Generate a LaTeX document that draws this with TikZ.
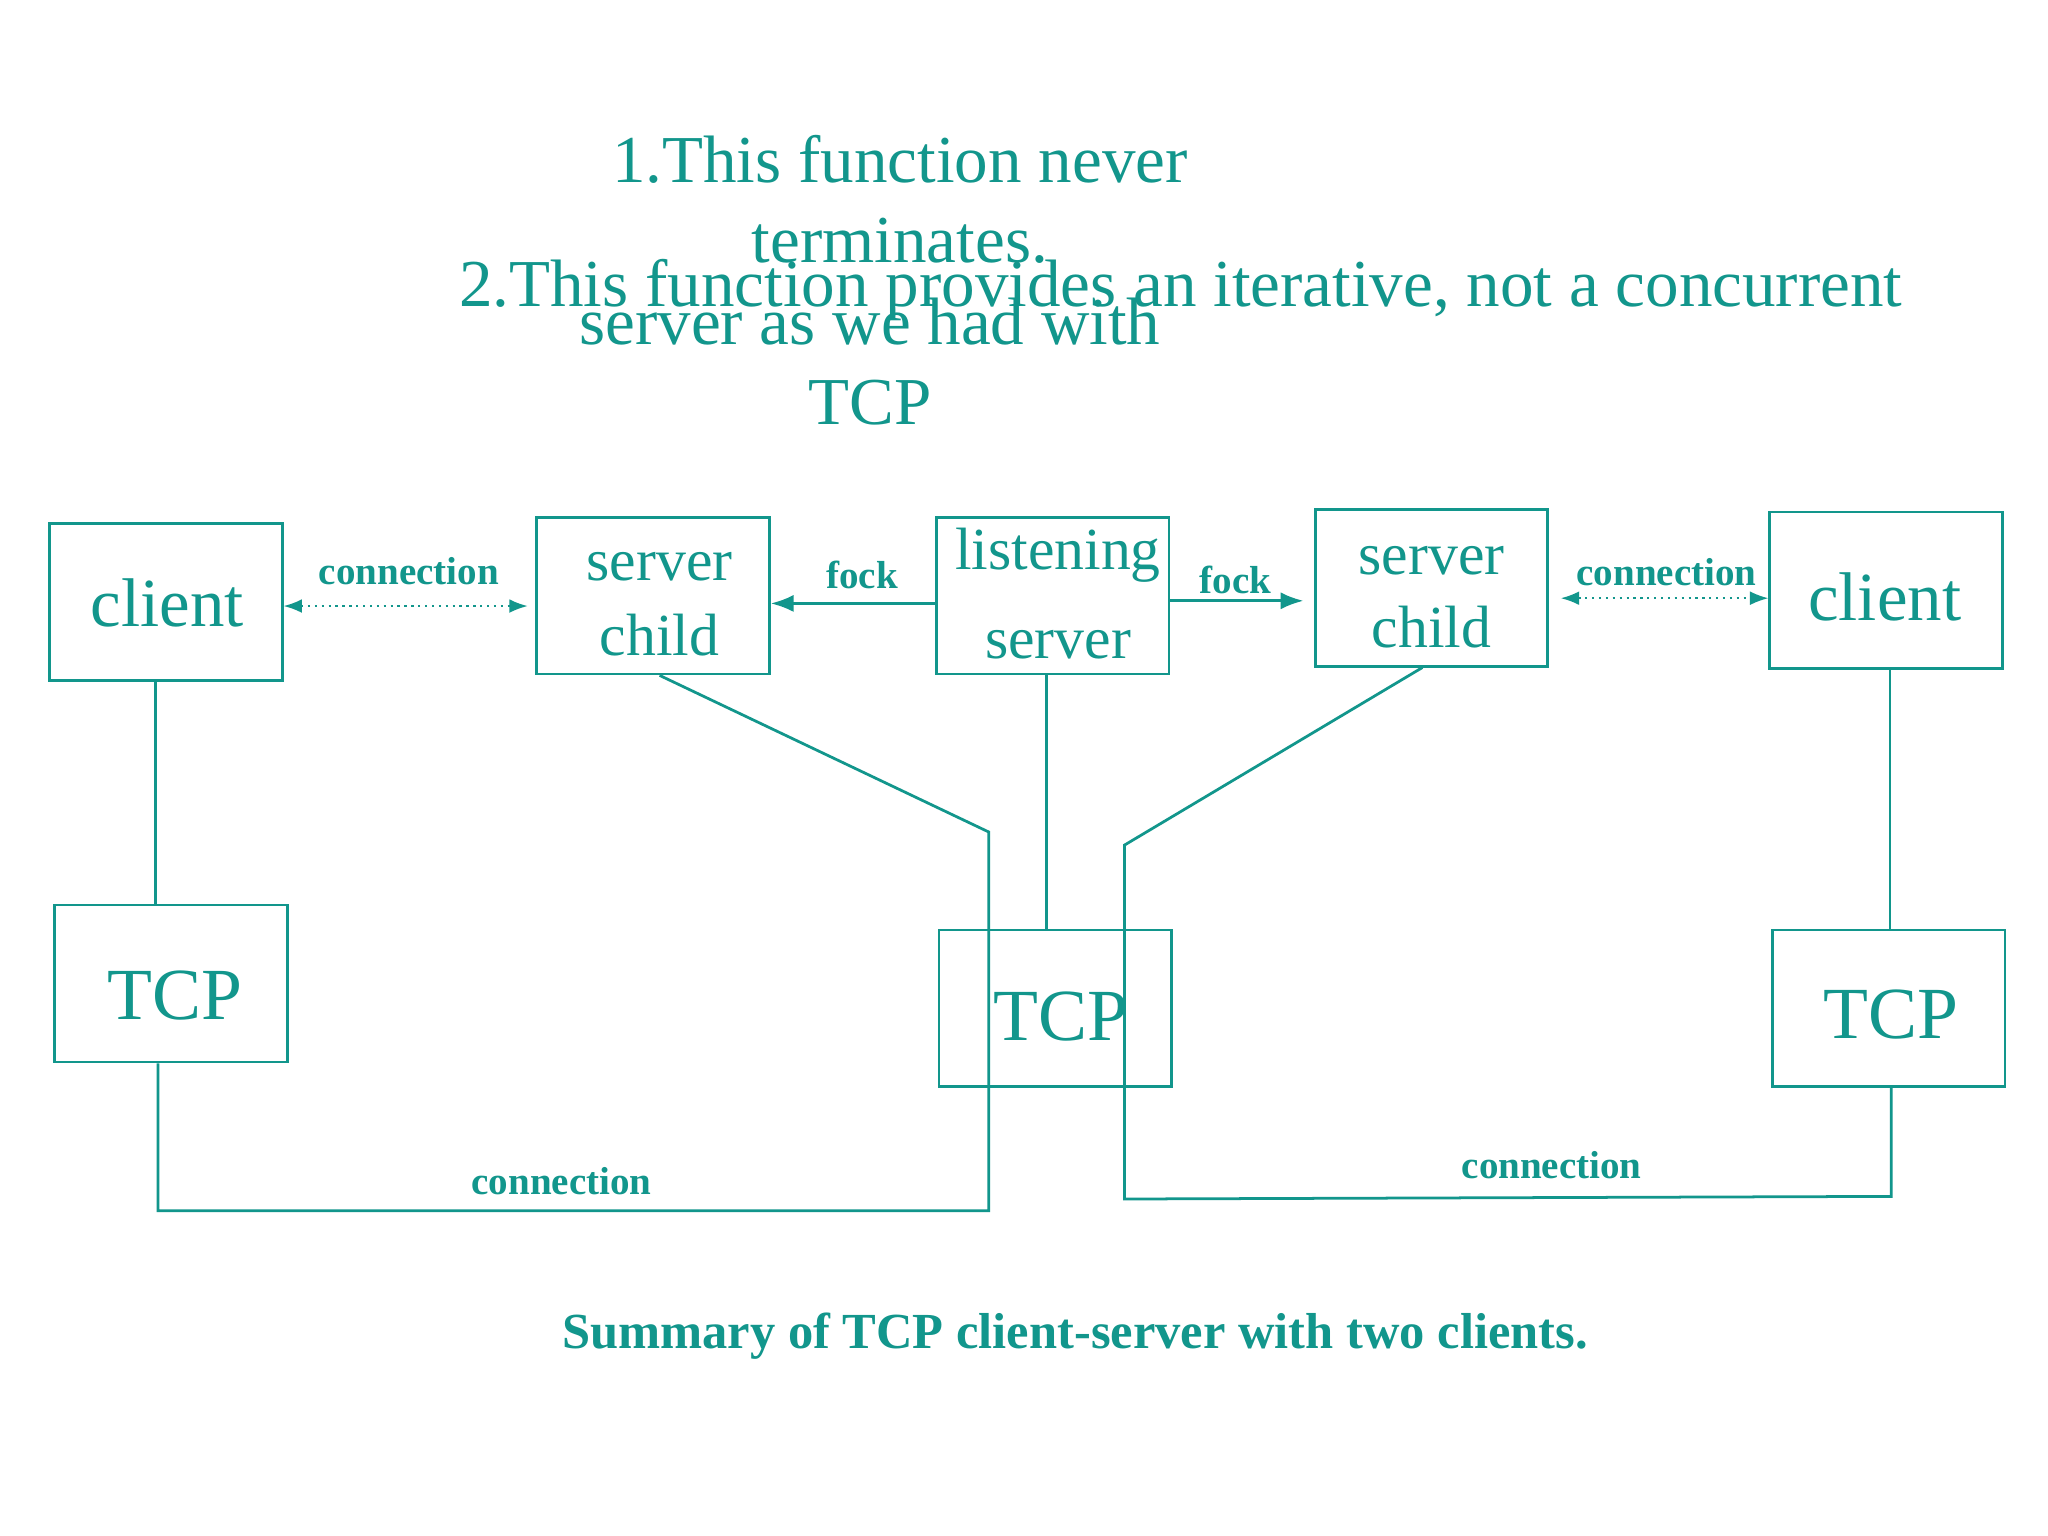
\documentclass[tikz,border=0pt]{standalone}
\usepackage{fontspec}
\setmainfont{Liberation Serif}
\usetikzlibrary{arrows.meta}
\definecolor{tl}{RGB}{18,150,140}
\begin{document}
\begin{tikzpicture}[x=0.01cm,y=-0.01cm,
  box/.style={draw=tl,line width=0.6pt,minimum width=1.78cm,minimum height=1.2cm,inner sep=0pt},
  big/.style={text=tl,font=\fontsize{15}{16}\selectfont},
  mid/.style={text=tl,font=\fontsize{13}{14}\selectfont},
  lab/.style={text=tl,font=\bfseries\fontsize{8.5}{10}\selectfont},
  ln/.style={draw=tl,line width=0.6pt},
  dot/.style={ln,line width=0.4pt,dash pattern=on 0.5pt off 1pt,{Latex[length=4pt]}-{Latex[length=4pt]}},
  arr/.style={ln,-{Latex[length=5pt]}}]
\useasboundingbox (0,0) rectangle (1568,1176);
\fill[white] (0,0) rectangle (1568,1176);
% boxes
\node[box] (cl) at (127,461) {};
\node[big] at (128,462) {client};
\node[box] (scl) at (500,456) {};
\node[mid] at (505,434) {server};
\node[mid] at (505,486) {child};
\node[box] (ls) at (806,456) {};
\node[mid] at (810,425) {listening};
\node[mid] at (810,494) {server};
\node[box] (scr) at (1096,450) {};
\node[mid] at (1096,429) {server};
\node[mid] at (1096,480) {child};
\node[box] (cr) at (1444,452) {};
\node[big] at (1443,457) {client};
\node[box] (tl) at (131,753) {};
\node[big,font=\fontsize{16}{18}\selectfont] at (134,762) {TCP};
\node[box] (tm) at (808,772) {};
\node[big,font=\fontsize{16}{18}\selectfont] at (812,778) {TCP};
\node[box] (tr) at (1446,772) {};
\node[big,font=\fontsize{16}{18}\selectfont] at (1448,777) {TCP};
% lines
\coordinate (a1) at (757,927); \coordinate (a2) at (757,637);
\coordinate (b1) at (861,647); \coordinate (b2) at (861,918);
\draw[ln] (cl.south -| 119,0) -- (tl.north -| 119,0);
\draw[ln] (tl.south -| 121,0) |- (a1) -- (a2) -- (scl.south -| 505,0);
\draw[ln] (ls.south -| 801,0) -- (tm.north -| 801,0);
\draw[ln] (scr.south -| 1089,0) -- (b1) -- (b2) -- (1448,916) -- (tr.south -| 1448,0);
\draw[ln] (cr.south -| 1447,0) -- (tr.north -| 1447,0);
% arrows
\draw[dot] (cl.east |- 0,464) -- (404,464);
\node[lab] at (313,437) {connection};
\draw[arr] (ls.west |- 0,462) -- (scl.east |- 0,462);
\node[lab] at (660,440) {fock};
\draw[arr] (ls.east |- 0,460) -- (998,460);
\node[lab] at (946,444) {fock};
\draw[dot] (1195,458) -- (cr.west |- 0,458);
\node[lab] at (1276,438) {connection};
\node[lab] at (430,904) {connection};
\node[lab] at (1188,892) {connection};
\node[lab,font=\bfseries\fontsize{11}{12}\selectfont] at (823,1023) {Summary of TCP client-server with two clients.};
% title texts
\node[big,font=\fontsize{14.6}{16}\selectfont] at (689,122) {1.This function never};
\node[big,font=\fontsize{14.6}{16}\selectfont] at (689,184) {terminates.};
\node[big,font=\fontsize{14.6}{16}\selectfont] at (666,246) {server as we had with};
\node[big,font=\fontsize{14.6}{16}\selectfont] at (666,308) {TCP};
\node[big,font=\fontsize{14.6}{16}\selectfont] at (904,222) {2.This function provides an iterative, not a concurrent};
\end{tikzpicture}
\end{document}
